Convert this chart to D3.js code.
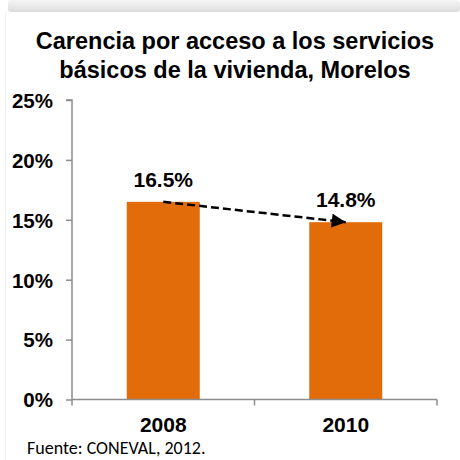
<!DOCTYPE html>
<html>
<head>
<meta charset="utf-8">
<script src="https://cdn.jsdelivr.net/npm/d3@7"></script>
<style>
  html, body { margin: 0; padding: 0; background: #fff; }
  svg { display: block; }
</style>
</head>
<body>
<script>
const categories = ["2008", "2010"];
const values = [16.5, 14.8];
const valueLabels = ["16.5%", "14.8%"];
const yTicks = [0, 5, 10, 15, 20, 25];
const yTickLabels = ["0%", "5%", "10%", "15%", "20%", "25%"];
const titleLines = ["Carencia por acceso a los servicios", "básicos de la vivienda, Morelos"];
const sourceNote = "Fuente: CONEVAL, 2012.";

const W = 460, H = 460;
const svg = d3.select("body").append("svg").attr("width", W).attr("height", H);

// top shadow band
const defs = svg.append("defs");
const grad = defs.append("linearGradient").attr("id", "topShade").attr("x1", 0).attr("y1", 0).attr("x2", 0).attr("y2", 1);
grad.append("stop").attr("offset", "0%").attr("stop-color", "#f6f6f6");
grad.append("stop").attr("offset", "100%").attr("stop-color", "#dcdcdc");
svg.append("rect").attr("x", 8).attr("y", 0).attr("width", W - 8).attr("height", 12).attr("rx", 3).attr("fill", "url(#topShade)");
svg.append("line").attr("x1", 5.5).attr("x2", 5.5).attr("y1", 12).attr("y2", H).attr("stroke", "#f0f0f0").attr("stroke-width", 1);

const FONT = "'Liberation Sans', Arial, sans-serif";

// title
svg.append("g").selectAll("text").data(titleLines).join("text")
  .attr("x", 235).attr("y", (d, i) => 49 + i * 29)
  .attr("text-anchor", "middle")
  .attr("font-family", FONT).attr("font-weight", "bold").attr("font-size", "23.5px")
  .attr("fill", "#000").text(d => d);

const x0 = 72, x1 = 437, yTop = 100, yBot = 399.5;
const x = d3.scaleBand().domain(categories).range([x0, x1]).paddingInner(0.6).paddingOuter(0.3);
const y = d3.scaleLinear().domain([0, 25]).range([yBot, yTop]);

const axisColor = "#8c8c8c";

// bars
svg.append("g").selectAll("rect").data(values).join("rect")
  .attr("x", (d, i) => x(categories[i]))
  .attr("width", x.bandwidth())
  .attr("y", d => y(d))
  .attr("height", d => y(0) - y(d))
  .attr("fill", "#e36c0a");

// y axis
const yAxis = svg.append("g").attr("transform", `translate(${x0},0)`)
  .call(d3.axisLeft(y).tickValues(yTicks).tickSize(6).tickPadding(13).tickFormat((d, i) => yTickLabels[i]));
yAxis.select(".domain").attr("stroke", axisColor).attr("stroke-width", 1.5).attr("d", `M-6,${yTop}H0V${yBot}`);
yAxis.selectAll(".tick line").attr("stroke", axisColor).attr("stroke-width", 1.5);
yAxis.selectAll(".tick text").attr("font-family", FONT).attr("font-weight", "bold").attr("font-size", "20.5px").attr("fill", "#000").attr("dy", "0.36em");

// x axis
const xAxis = svg.append("g").attr("transform", `translate(0,${yBot})`)
  .call(d3.axisBottom(x).tickSize(0).tickPadding(18));
xAxis.select(".domain").attr("stroke", axisColor).attr("stroke-width", 1.5).attr("d", `M${x0},0H${x1}`);
xAxis.selectAll(".tick text").attr("font-family", FONT).attr("font-weight", "bold").attr("font-size", "21px").attr("fill", "#000");
// category boundary ticks
const boundaryPositions = [0, 1, 2].map(i => x0 + (x1 - x0) * i / categories.length);
svg.append("g").selectAll("line").data(boundaryPositions).join("line")
  .attr("x1", d => d).attr("x2", d => d).attr("y1", yBot).attr("y2", yBot + 6)
  .attr("stroke", axisColor).attr("stroke-width", 1.5);

// value labels
svg.append("g").selectAll("text").data(values).join("text")
  .attr("x", (d, i) => x(categories[i]) + x.bandwidth() / 2)
  .attr("y", d => y(d) - 15)
  .attr("text-anchor", "middle")
  .attr("font-family", FONT).attr("font-weight", "bold").attr("font-size", "21px")
  .attr("fill", "#000").text((d, i) => valueLabels[i]);

// trend arrow
defs.append("marker").attr("id", "arrowHead").attr("viewBox", "0 0 10 10")
  .attr("refX", 10).attr("refY", 5).attr("markerWidth", 17).attr("markerHeight", 14)
  .attr("markerUnits", "userSpaceOnUse").attr("orient", "auto")
  .append("path").attr("d", "M0,0L10,5L0,10Z").attr("fill", "#000");
const ax1 = x(categories[0]) + x.bandwidth() / 2, ay1 = y(values[0]);
const ax2 = x(categories[1]) + x.bandwidth() / 2, ay2 = y(values[1]);
svg.append("line")
  .attr("x1", ax1).attr("y1", ay1).attr("x2", ax2).attr("y2", ay2)
  .attr("stroke", "#000").attr("stroke-width", 2.5).attr("stroke-dasharray", "8,4")
  .attr("marker-end", "url(#arrowHead)");

// source
svg.append("text").attr("x", 27).attr("y", 454)
  .attr("font-family", "Carlito, Calibri, 'Liberation Sans', sans-serif").attr("font-size", "18px")
  .attr("fill", "#000").text(sourceNote);
</script>
</body>
</html>
